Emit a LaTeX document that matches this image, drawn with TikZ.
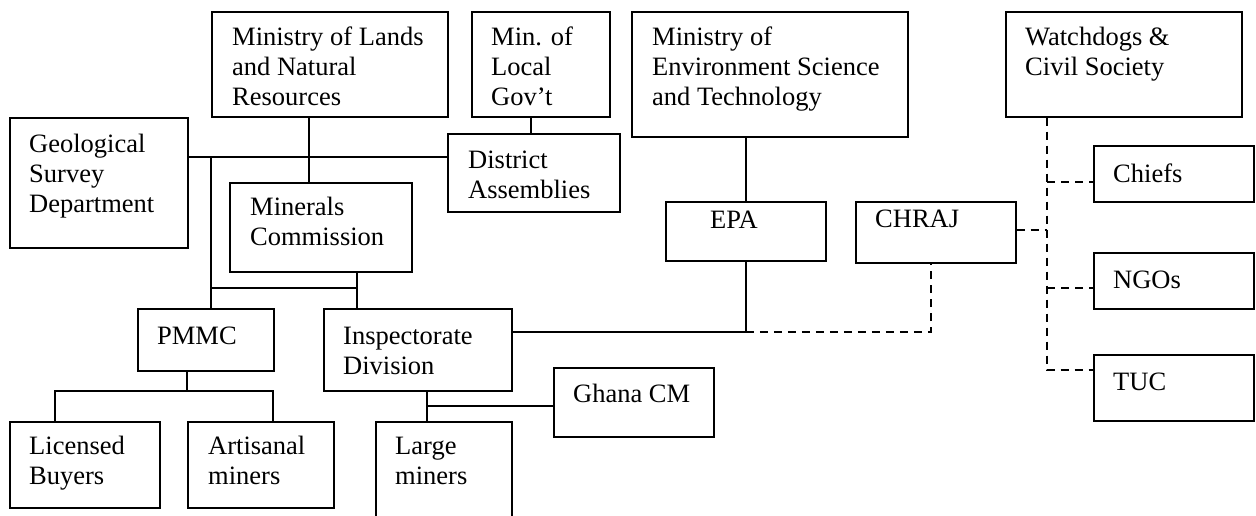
\documentclass[tikz,border=0pt]{standalone}
\usepackage{fontspec}
\setmainfont{Liberation Serif}
\tikzset{
  bx/.style={draw, line width=1.7pt, rectangle, inner sep=0pt, anchor=north west},
  txt/.style={inner sep=0pt, anchor=base west, font=\fontsize{26.5}{30}\selectfont},
  conn/.style={line width=1.7pt},
  dconn/.style={line width=1.7pt, dash pattern=on 8pt off 6pt}
}
\newcommand\mybox[8]{%
  \node[bx, minimum width={#4pt-#2pt}, minimum height={#5pt-#3pt}] (#1) at (#2,#3) {};
  \node[txt] (#1-t) at (#6,#7) {\begin{tabular}[t]{@{}l@{}}#8\end{tabular}};
}
\begin{document}
\begin{tikzpicture}[x=1pt, y=-1pt]
\useasboundingbox (0,0) rectangle (1256,515);
\mybox{lands}{211}{11}{447}{116}{232}{45}{Ministry of Lands\\and Natural\\Resources}
\mybox{local}{471}{11}{609}{116}{491}{45}{Min. of\\Local\\Gov’t}
\mybox{env}{631}{11}{907}{136}{652}{45}{Ministry of\\Environment Science\\and Technology}
\mybox{watch}{1005}{11}{1241}{116}{1025}{45}{Watchdogs \&\\Civil Society}
\mybox{geo}{9}{117}{187}{247}{29}{152}{Geological\\Survey\\Department}
\mybox{district}{447}{133}{619}{211}{468}{168}{District\\Assemblies}
\mybox{minerals}{229}{182}{411}{271}{250}{215}{Minerals\\Commission}
\mybox{epa}{665}{201}{825}{260}{710}{228}{EPA}
\mybox{chraj}{855}{201}{1015}{262}{875}{227}{CHRAJ}
\mybox{chiefs}{1093}{145}{1253}{201}{1113}{182}{Chiefs}
\mybox{ngos}{1093}{252}{1253}{308}{1113}{288}{NGOs}
\mybox{tuc}{1093}{354}{1253}{420}{1113}{390}{TUC}
\mybox{pmmc}{137}{308}{273}{370}{157}{344}{PMMC}
\mybox{inspect}{323}{308}{511}{390}{343}{344}{Inspectorate\\Division}
\mybox{ghana}{553}{367}{713}{436}{573}{402}{Ghana CM}
\mybox{licensed}{9}{421}{159}{507}{29}{454}{Licensed\\Buyers}
\mybox{artisanal}{187}{421}{333}{507}{208}{454}{Artisanal\\miners}
\mybox{large}{375}{421}{511}{535}{395}{454}{Large\\miners}
% helper coordinates
\coordinate (v309) at (309,0);
\coordinate (v531) at (531,0);
\coordinate (v211) at (211,0);
\coordinate (v357) at (357,0);
\coordinate (v931) at (931,0);
\coordinate (v1047) at (1047,0);
\coordinate (v187) at (187,0);
\coordinate (v55) at (55,0);
\coordinate (v273) at (273,0);
\coordinate (v427) at (427,0);
\coordinate (h157) at (0,157);
\coordinate (h288) at (0,288);
\coordinate (h332) at (0,332);
\coordinate (h391) at (0,391);
\coordinate (h406) at (0,406);
\coordinate (hch) at (0,182);
\coordinate (hcr) at (0,230);
\coordinate (hng) at (0,288);
\coordinate (htu) at (0,370);
% solid connectors
\draw[conn] (lands.south -| v309) -- (minerals.north -| v309);
\draw[conn] (geo.east |- h157) -- (district.west |- h157);
\draw[conn] (local.south -| v531) -- (district.north -| v531);
\draw[conn] (v211 |- h157) -- (pmmc.north -| v211);
\draw[conn] (v211 |- h288) -- (v357 |- h288);
\draw[conn] (minerals.south -| v357) -- (inspect.north -| v357);
\draw[conn] (env.south -| epa.north) -- (epa.north);
\draw[conn] (inspect.east |- h332) -- (epa.south |- h332) -- (epa.south);
\draw[conn] (pmmc.south -| v187) -- (v187 |- h391);
\draw[conn] (licensed.north -| v55) -- (v55 |- h391) -- (v273 |- h391) -- (artisanal.north -| v273);
\draw[conn] (inspect.south -| v427) -- (large.north -| v427);
\draw[conn] (v427 |- h406) -- (ghana.west |- h406);
% dashed connectors
\draw[dconn] (epa.south |- h332) -- (v931 |- h332) -- (chraj.south -| v931);
\draw[dconn] (watch.south -| v1047) -- (v1047 |- htu) -- (tuc.west |- htu);
\draw[dconn] (v1047 |- hch) -- (chiefs.west |- hch);
\draw[dconn] (chraj.east |- hcr) -- (v1047 |- hcr);
\draw[dconn] (v1047 |- hng) -- (ngos.west |- hng);
\end{tikzpicture}
\end{document}
